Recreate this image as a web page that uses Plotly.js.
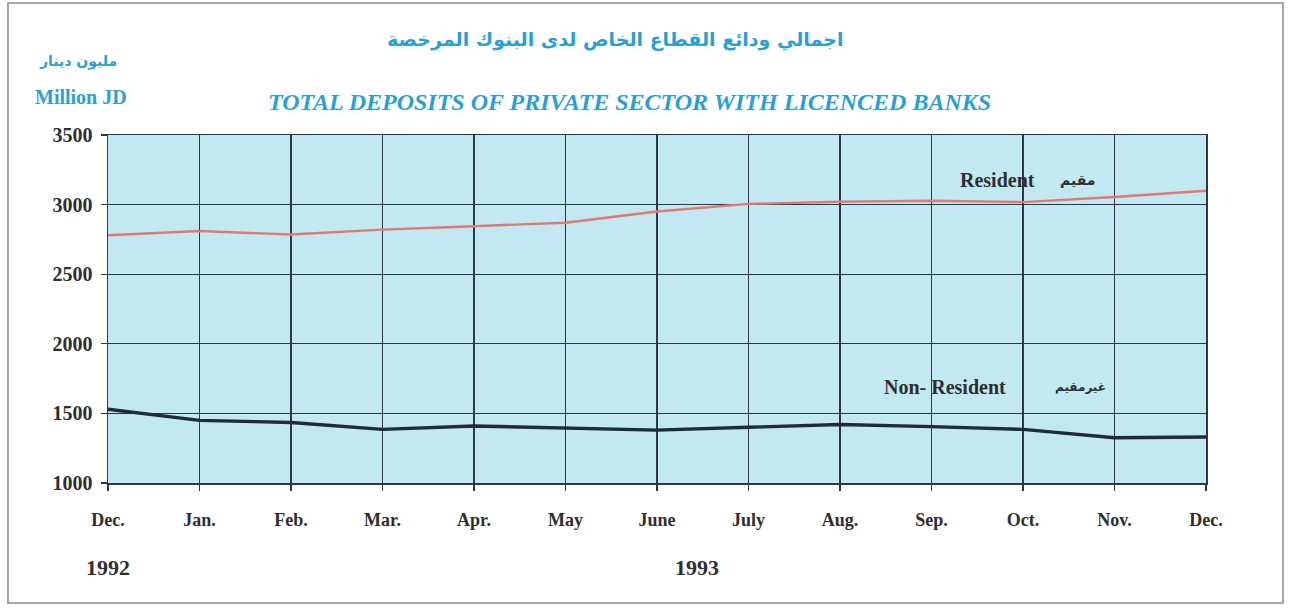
<!DOCTYPE html>
<html>
<head>
<meta charset="utf-8">
<script src="https://cdn.plot.ly/plotly-3.0.1.min.js"></script>
<style>
  html, body { margin: 0; padding: 0; background: #ffffff; }
  #chart { width: 1290px; height: 610px; }
</style>
</head>
<body>
<div id="chart"></div>
<script>
// ---- data ----
const monthLabels = ["Dec.", "Jan.", "Feb.", "Mar.", "Apr.", "May", "June", "July", "Aug.", "Sep.", "Oct.", "Nov.", "Dec."];
const monthIndex = [0, 1, 2, 3, 4, 5, 6, 7, 8, 9, 10, 11, 12];
const resident = [2780, 2810, 2785, 2820, 2845, 2870, 2950, 3005, 3020, 3028, 3018, 3055, 3100];
const nonResident = [1530, 1450, 1435, 1385, 1410, 1398, 1380, 1400, 1420, 1405, 1385, 1325, 1330];
const yTicks = [1000, 1500, 2000, 2500, 3000, 3500];
const yearLabels = ["1992", "1993"];

const serif = "Liberation Serif, Times New Roman, serif";
const arabic = "DejaVu Sans, Noto Sans, sans-serif";
const blue = "#2a9fd6";
const ink = "#2e2e2e";

const traces = [
  { x: monthIndex, y: resident, type: "scatter", mode: "lines", name: "Resident",
    line: { color: "#e07a78", width: 2.4 }, hoverinfo: "x+y" },
  { x: monthIndex, y: nonResident, type: "scatter", mode: "lines", name: "Non- Resident",
    line: { color: "#1f2a3a", width: 3.4 }, hoverinfo: "x+y" }
];

function ann(text, xref, x, y, font) {
  return { text: text, xref: xref, yref: (xref === "x" && y > 10) ? "y" : "paper", x: x, y: y,
           xanchor: "center", yanchor: "middle", showarrow: false, font: font };
}

const layout = {
  width: 1290, height: 610,
  margin: { l: 108, r: 84, t: 135, b: 127 },
  paper_bgcolor: "#ffffff",
  plot_bgcolor: "#c2e9f1",
  showlegend: false,
  xaxis: {
    range: [0, 12], tickmode: "array", tickvals: monthIndex, ticktext: monthLabels,
    showgrid: true, gridcolor: "#2c3848", gridwidth: 1.3, zeroline: false,
    showline: true, linecolor: "#2c3848", linewidth: 1.5, mirror: true,
    ticks: "outside", ticklen: 6, tickcolor: "#2c3848", tickwidth: 1.2,
    ticklabelstandoff: 14,
    tickfont: { family: serif, size: 18, color: ink, weight: "bold" }
  },
  yaxis: {
    range: [1000, 3500], tickmode: "array", tickvals: yTicks,
    showgrid: true, gridcolor: "#2c3848", gridwidth: 1.3, zeroline: false,
    showline: true, linecolor: "#2c3848", linewidth: 1.5, mirror: true,
    ticks: "outside", ticklen: 6, tickcolor: "#2c3848", tickwidth: 1.2,
    ticklabelstandoff: 4,
    tickfont: { family: serif, size: 20, color: ink, weight: "bold" }
  },
  shapes: [
    { type: "rect", xref: "paper", yref: "paper", x0: -0.0911, x1: 1.0701, y0: -0.345, y1: 1.379,
      line: { color: "#8a8a8a", width: 1.5 }, fillcolor: "rgba(0,0,0,0)", layer: "below" }
  ],
  annotations: [
    ann("اجمالي ودائع القطاع الخاص لدى البنوك المرخصة", "paper", 0.4617, 1.273,
        { family: arabic, size: 19, color: blue, weight: "bold" }),
    ann("<i>TOTAL DEPOSITS OF PRIVATE SECTOR WITH LICENCED BANKS</i>", "paper", 0.4754, 1.095,
        { family: serif, size: 24, color: blue, weight: "bold" }),
    ann("مليون دينار", "paper", -0.0273, 1.21,
        { family: arabic, size: 14, color: blue, weight: "bold" }),
    ann("Million JD", "paper", -0.0246, 1.109,
        { family: serif, size: 20, color: blue, weight: "bold" }),
    ann("Resident", "x", 9.72, 3175, { family: serif, size: 20, color: ink, weight: "bold" }),
    ann("مقيم", "x", 10.60, 3175, { family: arabic, size: 14, color: ink, weight: "bold" }),
    ann("Non- Resident", "x", 9.15, 1690, { family: serif, size: 20, color: ink, weight: "bold" }),
    ann("غيرمقيم", "x", 10.63, 1690, { family: arabic, size: 12, color: ink, weight: "bold" }),
    ann(yearLabels[0], "x", 0, -0.2414, { family: serif, size: 22, color: ink, weight: "bold" }),
    ann(yearLabels[1], "x", 6.44, -0.2414, { family: serif, size: 22, color: ink, weight: "bold" })
  ]
};

Plotly.newPlot("chart", traces, layout, { displayModeBar: false, staticPlot: true });
</script>
</body>
</html>
